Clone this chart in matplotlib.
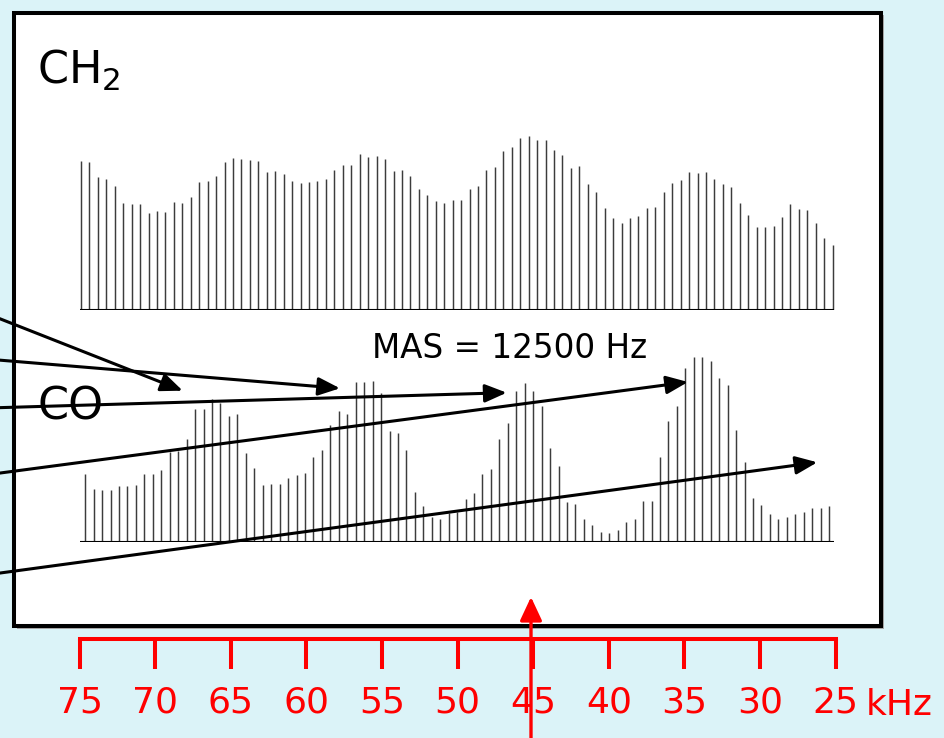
import numpy as np
import matplotlib
matplotlib.use('Agg')
import matplotlib.pyplot as plt
from matplotlib.patches import Rectangle

plt.rcParams['font.family'] = ['DejaVu Sans']
plt.rcParams['mathtext.default'] = 'regular'

W, H = 944, 738
bg_color = '#dbf3f8'

# sideband intensities (arbitrary units), high frequency -> low frequency
ch2_heights = [149.3, 148.3, 133.3, 131.3, 124, 106.7, 106.3, 106, 97.3, 98.7,
               98.3, 108, 106.7, 113, 128, 129, 134.3, 148.3, 151.7, 151.3,
               150.3, 148.7, 138, 139, 135.7, 128.7, 127.3, 127.7, 129, 130.7,
               140.3, 145.3, 144.7, 155.7, 153, 154, 150.7, 139, 140.3, 134.3,
               121.3, 114.7, 109.3, 107, 109.7, 110, 120.7, 124, 139.7, 143.3,
               158.7, 163.3, 172.3, 174, 169.7, 169.7, 160.3, 155.3, 142.3, 144,
               126.3, 118, 101.7, 91.7, 86.7, 92.3, 93.7, 102.3, 102.7, 117.7,
               127.3, 129.7, 137.7, 136.7, 137.7, 131, 125.7, 123, 107, 95,
               82.7, 82.7, 84.3, 93.3, 106.3, 101, 99.7, 86.7, 72.3, 64.7]

co_heights = [74.4, 67.4, 52.4, 51.7, 52, 55.7, 55.4, 56.4, 68, 67.4,
              72, 89.4, 90.4, 102.4, 132.4, 133, 142.4, 138.4, 125.7, 127.7,
              89, 74, 56.4, 57.7, 57.7, 64, 66.7, 68.7, 84.7, 91.7,
              116.4, 130.4, 128, 159.4, 160, 160.4, 148.4, 111, 108.7, 91.4,
              49.4, 36, 25, 23, 28.7, 29.4, 42.7, 49, 67.4, 72.4,
              102.4, 118.7, 151, 158.4, 150.7, 136, 93.4, 75.7, 39.7, 38,
              22.4, 16.7, 10, 8.7, 11.4, 19.7, 22.7, 40.4, 40.7, 85,
              121, 136, 174, 184.4, 185, 181, 164, 156.4, 111.7, 80,
              44, 37, 27.4, 23, 24.4, 27.4, 29.7, 34, 34, 35.7]

# first / last sideband position of each trace (kHz)
ch2_span = (74.9, 25.2)
co_span = (75.18, 25.44)
baseline_span = (75.4, 25.1)

scale_ticks = [75, 70, 65, 60, 55, 50, 45, 40, 35, 30, 25]
scale_labels = [str(t) for t in scale_ticks]

fig = plt.figure(figsize=(W / 100, H / 100), dpi=100)
fig.patch.set_facecolor(bg_color)


def rect(x0, y_top, x1, y_bot):
    # pixel box (origin top-left) -> figure fraction
    return [x0 / W, (H - y_bot) / H, (x1 - x0) / W, (y_bot - y_top) / H]


# white panel with drop shadow
bg = fig.add_axes([0, 0, 1, 1], zorder=0)
bg.set_xlim(0, W)
bg.set_ylim(H, 0)
bg.axis('off')
bg.add_patch(Rectangle((16.5, 15), 867, 613.5, fc='#a8a8a8', ec='none'))
bg.add_patch(Rectangle((14, 12.5), 867, 613.5, fc='white', ec='black', lw=2.9))

# the two spinning-sideband traces
x_left, x_right = 79.5, 835.7
for heights, span, base_y, top in [(ch2_heights, ch2_span, 310, 180),
                                   (co_heights, co_span, 541.7, 195)]:
    ax = fig.add_axes(rect(x_left, base_y - top, x_right, base_y), zorder=1)
    ax.set_xlim(75, 25)
    ax.set_ylim(0, top)
    ax.axis('off')
    freqs = np.linspace(span[0], span[1], len(heights))
    ax.vlines(freqs, 0, heights, color='#3c3c3c', lw=1.05)
    ax.hlines(0, baseline_span[0], baseline_span[1], color='black', lw=1.5)

# red frequency scale
sc = fig.add_axes(rect(x_left, 638.9, x_right, 639), zorder=1)
sc.set_xlim(75, 25)
sc.patch.set_visible(False)
for side in ['left', 'right', 'top']:
    sc.spines[side].set_visible(False)
sc.spines['bottom'].set_color('red')
sc.spines['bottom'].set_linewidth(2.9)
sc.set_yticks([])
sc.set_xticks(scale_ticks)
sc.set_xticklabels(scale_labels)
sc.tick_params(axis='x', direction='out', length=21.6, width=2.9,
               color='red', pad=12, labelsize=26, labelcolor='red')

# labels and arrows on top
ov = fig.add_axes([0, 0, 1, 1], zorder=2)
ov.set_xlim(0, W)
ov.set_ylim(H, 0)
ov.axis('off')
ov.patch.set_visible(False)

ov.text(37, 84, 'CH$_2$', fontsize=32, va='baseline', ha='left')
ov.text(37, 420, 'CO', fontsize=32, va='baseline', ha='left')
ov.text(372, 358, 'MAS = 12500 Hz', fontsize=23.5, va='baseline', ha='left')
ov.text(866, 715, 'kHz', fontsize=26, color='red', va='baseline', ha='left')

head = '-|>,head_length=0.6,head_width=0.25'
for start, end in [((-2, 318), (182.7, 390.7)),
                   ((-2, 360), (340, 388.3)),
                   ((-2, 407.7), (506.7, 392.7)),
                   ((-2, 473.3), (688, 382)),
                   ((-2, 573.3), (817.3, 462.3))]:
    ov.annotate('', xy=end, xytext=start,
                arrowprops=dict(arrowstyle=head, color='black', lw=2.2,
                                mutation_scale=22, shrinkA=0, shrinkB=0))

ov.annotate('', xy=(531, 597), xytext=(531, 742),
            arrowprops=dict(arrowstyle='-|>,head_length=0.6,head_width=0.28',
                            color='red', lw=2.4, mutation_scale=24,
                            shrinkA=0, shrinkB=0))

fig.savefig('out.png', dpi=100, facecolor=bg_color)
